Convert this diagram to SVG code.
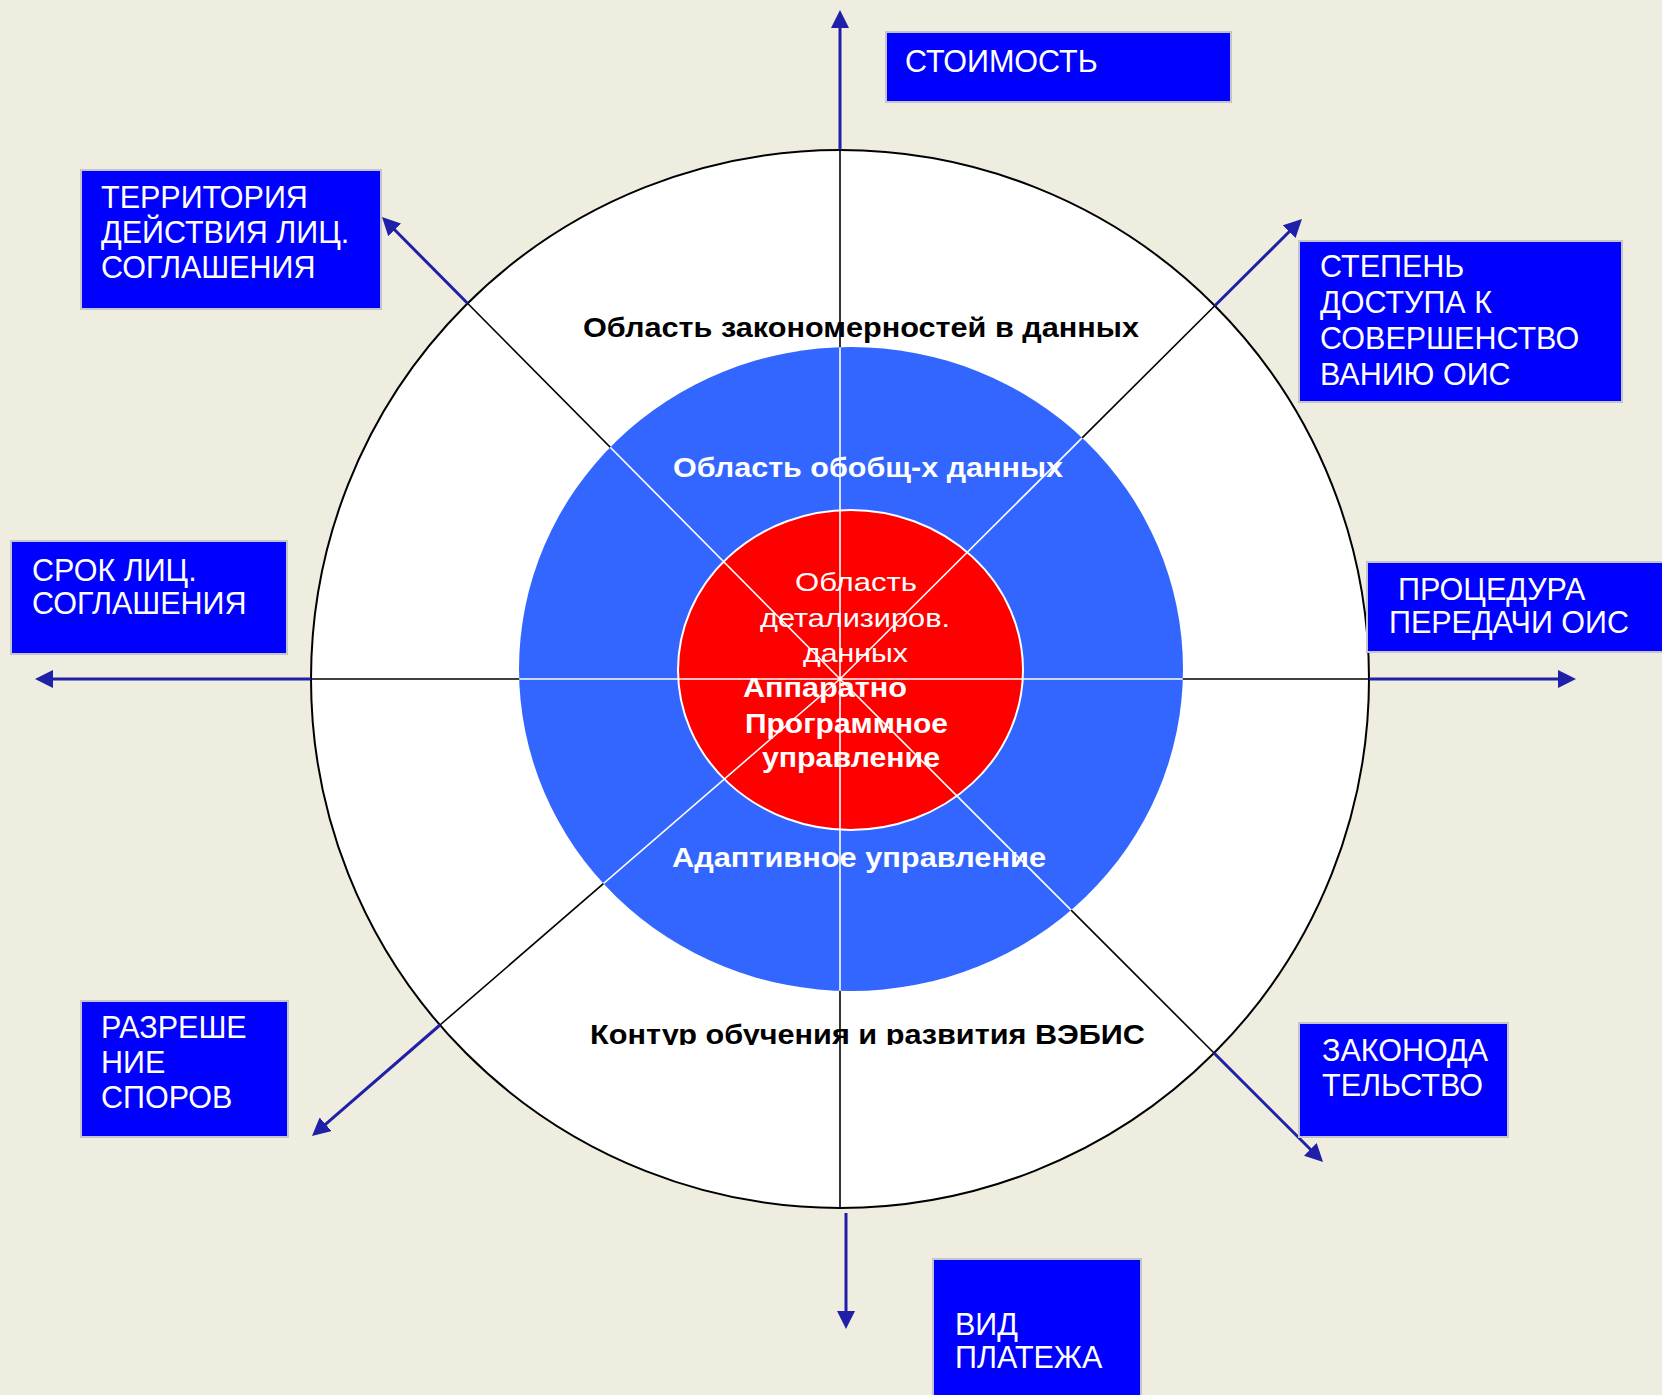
<svg xmlns="http://www.w3.org/2000/svg" width="1662" height="1395" viewBox="0 0 1662 1395">
<style>
.box{fill:#0000FF;stroke:#C4C4CC;stroke-width:2}
.bt{font-family:"Liberation Sans",Arial,sans-serif;font-size:30.5px;fill:#FFFFFF}
.ct{font-family:"Liberation Sans",Arial,sans-serif;font-weight:bold;font-size:27px}
.arr{stroke:#1f1fa8;stroke-width:3;fill:none;marker-end:url(#ah)}
.bl{stroke:#000000;stroke-width:1.6;fill:none}
.wl{stroke:#FFFFFF;stroke-width:1.6;fill:none}
</style>
<defs>
<marker id="ah" viewBox="0 0 18 18" refX="12" refY="9" markerWidth="18" markerHeight="18" markerUnits="userSpaceOnUse" orient="auto">
<path d="M0,0 L18,9 L0,18 z" fill="#1f1fa8"/>
</marker>
<clipPath id="blueclip"><ellipse cx="851" cy="669" rx="332" ry="322"/></clipPath>
<clipPath id="cutclip"><rect x="0" y="0" width="1662" height="1045"/></clipPath>
</defs>
<rect width="1662" height="1395" fill="#EFEDE0"/>

<g id="outer-circle">
<circle cx="840" cy="679" r="529" fill="#FFFFFF" stroke="#000000" stroke-width="2"/>
</g>

<g id="black-axes">
<line class="bl" x1="840" y1="150" x2="840" y2="1208"/>
<line class="bl" x1="311" y1="679" x2="1369" y2="679"/>
<line class="bl" x1="840" y1="679" x2="467.5" y2="303.3"/>
<line class="bl" x1="840" y1="679" x2="1214.8" y2="305.8"/>
<line class="bl" x1="840" y1="679" x2="1214" y2="1053"/>
<line class="bl" x1="840" y1="679" x2="440" y2="1025"/>
</g>

<g id="blue-ring">
<ellipse cx="851" cy="669" rx="332" ry="322" fill="#3366FF"/>
</g>
<g id="red-core">
<ellipse cx="850.5" cy="670" rx="172.5" ry="160" fill="#FF0000" stroke="#FFFFFF" stroke-width="2"/>
</g>

<g id="circle-labels">
<text class="ct" x="583" y="337" textLength="556" lengthAdjust="spacingAndGlyphs" fill="#000000">Область закономерностей в данных</text>
<text class="ct" x="673" y="477" textLength="390" lengthAdjust="spacingAndGlyphs" fill="#FFFFFF">Область обобщ-х данных</text>
<g font-family="Liberation Sans, Arial, sans-serif" font-size="26" fill="#FFFFFF">
<text x="795" y="591" textLength="122" lengthAdjust="spacingAndGlyphs">Область</text>
<text x="760" y="627" textLength="190" lengthAdjust="spacingAndGlyphs">детализиров.</text>
<text x="803" y="662" textLength="105" lengthAdjust="spacingAndGlyphs">данных</text>
</g>
<g class="ct" fill="#FFFFFF" font-size="28">
<text x="743" y="697" textLength="164" lengthAdjust="spacingAndGlyphs">Аппаратно</text>
<text x="745" y="733" textLength="203" lengthAdjust="spacingAndGlyphs">Программное</text>
<text x="762" y="767" textLength="178" lengthAdjust="spacingAndGlyphs">управление</text>
</g>
<text class="ct" x="672" y="867" textLength="374" lengthAdjust="spacingAndGlyphs" fill="#FFFFFF">Адаптивное управление</text>
<text class="ct" x="590" y="1044" textLength="555" lengthAdjust="spacingAndGlyphs" fill="#000000" clip-path="url(#cutclip)">Контур обучения и развития ВЭБИС</text>
</g>

<g id="white-axes" clip-path="url(#blueclip)">
<line class="wl" x1="840" y1="150" x2="840" y2="1208"/>
<line class="wl" x1="311" y1="679" x2="1369" y2="679"/>
<line class="wl" x1="840" y1="679" x2="467.5" y2="303.3"/>
<line class="wl" x1="840" y1="679" x2="1214.8" y2="305.8"/>
<line class="wl" x1="840" y1="679" x2="1214" y2="1053"/>
<line class="wl" x1="840" y1="679" x2="440" y2="1025"/>
</g>

<g id="connectors">
<line class="arr" x1="840" y1="150" x2="840" y2="16"/>
<line class="arr" x1="311" y1="679" x2="41" y2="679"/>
<line class="arr" x1="1369" y1="679" x2="1570" y2="679"/>
<line class="arr" x1="846" y1="1213" x2="846" y2="1323"/>
<line class="arr" x1="467.5" y1="303.3" x2="386.2" y2="221.3"/>
<line class="arr" x1="1214.8" y1="305.8" x2="1297.7" y2="223.2"/>
<line class="arr" x1="1214" y1="1053" x2="1318.8" y2="1157.8"/>
<line class="arr" x1="440" y1="1025" x2="316.5" y2="1132.1"/>
</g>

<g id="box-cost">
<rect class="box" x="886" y="32" width="345" height="70"/>
<text class="bt" x="905" y="72">СТОИМОСТЬ</text>
</g>
<g id="box-territory">
<rect class="box" x="81" y="170" width="300" height="139"/>
<text class="bt" x="101" y="208">ТЕРРИТОРИЯ</text>
<text class="bt" x="101" y="243">ДЕЙСТВИЯ ЛИЦ.</text>
<text class="bt" x="101" y="278">СОГЛАШЕНИЯ</text>
</g>
<g id="box-access">
<rect class="box" x="1299" y="241" width="323" height="161"/>
<text class="bt" x="1320" y="277">СТЕПЕНЬ</text>
<text class="bt" x="1320" y="313">ДОСТУПА К</text>
<text class="bt" x="1320" y="349">СОВЕРШЕНСТВО</text>
<text class="bt" x="1320" y="385">ВАНИЮ ОИС</text>
</g>
<g id="box-term">
<rect class="box" x="11" y="541" width="276" height="113"/>
<text class="bt" x="32" y="581">СРОК ЛИЦ.</text>
<text class="bt" x="32" y="614">СОГЛАШЕНИЯ</text>
</g>
<g id="box-procedure">
<rect class="box" x="1367" y="562" width="300" height="90"/>
<text class="bt" x="1398" y="600">ПРОЦЕДУРА</text>
<text class="bt" x="1389" y="633">ПЕРЕДАЧИ ОИС</text>
</g>
<g id="box-disputes">
<rect class="box" x="81" y="1001" width="207" height="136"/>
<text class="bt" x="101" y="1038">РАЗРЕШЕ</text>
<text class="bt" x="101" y="1073">НИЕ</text>
<text class="bt" x="101" y="1108">СПОРОВ</text>
</g>
<g id="box-law">
<rect class="box" x="1299" y="1023" width="209" height="114"/>
<text class="bt" x="1322" y="1061">ЗАКОНОДА</text>
<text class="bt" x="1322" y="1096">ТЕЛЬСТВО</text>
</g>
<g id="box-payment">
<rect class="box" x="933" y="1259" width="208" height="145"/>
<text class="bt" x="955" y="1335">ВИД</text>
<text class="bt" x="955" y="1368">ПЛАТЕЖА</text>
</g>
</svg>
